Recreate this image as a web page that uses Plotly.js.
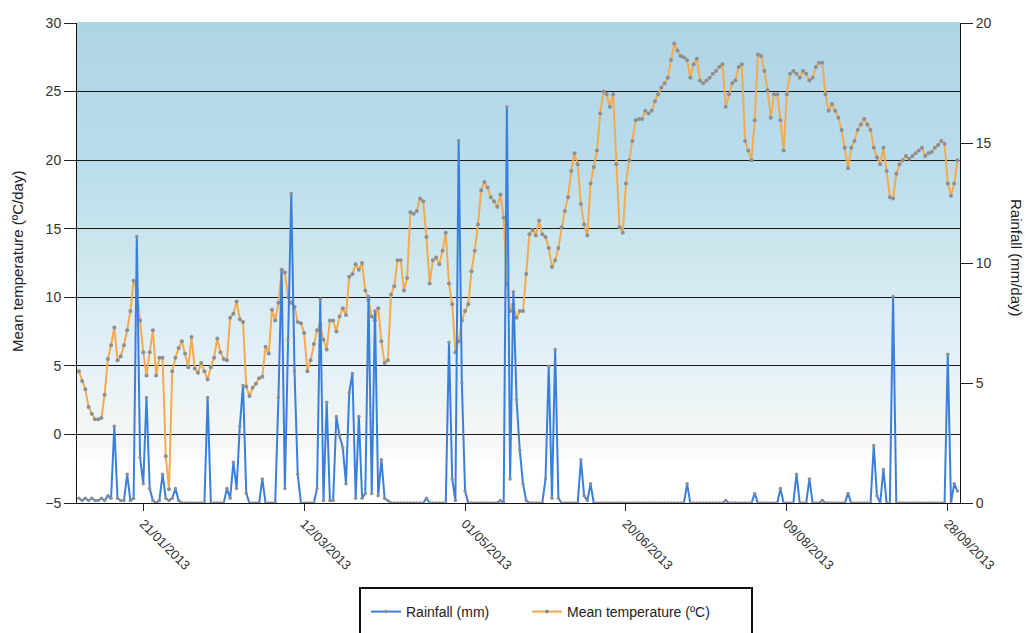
<!DOCTYPE html>
<html>
<head>
<meta charset="utf-8">
<script src="https://cdn.plot.ly/plotly-3.0.1.min.js"></script>
<style>
html,body{margin:0;padding:0;background:#fff;}
#chart{width:1029px;height:633px;}
</style>
</head>
<body>
<div id="chart"></div>
<script>
// ---- data ----
const startDate = '2013-01-01';
const rainfall = [
  0.2,0.1,0.2,0.1,0.2,0.1,0.1,0.2,0.1,0.3,
  0.2,3.2,0.2,0.1,0.1,1.2,0.1,0.2,11.1,1.9,
  0.8,4.4,0.6,0.1,0,0.1,1.2,0.2,0.1,0.2,
  0.6,0.1,0,0,0,0,0,0,0,0,
  4.4,0,0,0,0,0,0.6,0.2,1.7,0.6,
  3.2,4.9,0.4,0,0,0,0,1.0,0,0,
  0,0,4.4,9.7,0.6,6.8,12.9,5.5,1.2,0,
  0,0,0,0,0.6,8.5,0.1,4.2,0.1,0.1,
  3.6,2.8,2.3,0.8,4.6,5.4,0.2,3.6,0.2,0.4,
  8.6,0.4,8.0,0.3,1.8,0.2,0.1,0,0,0,
  0,0,0,0,0,0,0,0,0.2,0,
  0,0,0,0,0,6.7,1.0,0.1,15.1,5.0,
  0.5,0,0,0,0,0,0,0,0,0,
  0,0.1,0,16.5,1.0,8.8,4.3,2.2,0.8,0.1,
  0,0,0,0,0,1.0,5.7,0.2,6.4,0.2,
  0,0,0,0,0,0,1.8,0.3,0.1,0.8,
  0,0,0,0,0,0,0,0,0,0,
  0,0,0,0,0,0,0,0,0,0,
  0,0,0,0,0,0,0,0,0,0.8,
  0,0,0,0,0,0,0,0,0,0,
  0,0.1,0,0,0,0,0,0,0,0,
  0.4,0,0,0,0,0,0,0,0.6,0,
  0,0,0,1.2,0,0,0,1.0,0,0,
  0,0.1,0,0,0,0,0,0,0,0.4,
  0,0,0,0,0,0,0,2.4,0.3,0,
  1.4,0,0,8.6,0,0,0,0,0,0,
  0,0,0,0,0,0,0,0,0,0,
  6.2,0,0.8,0.5
];
const meanTemperature = [
  4.6,3.9,3.3,2.0,1.5,1.1,1.1,1.2,2.9,5.5,
  6.5,7.8,5.4,5.7,6.5,7.6,9.0,11.2,10.6,8.3,
  6.0,4.3,6.0,7.6,4.3,5.6,5.6,-1.6,-4.0,4.6,
  5.6,6.3,6.8,5.9,4.9,7.1,4.8,4.5,5.2,4.6,
  4.0,4.9,5.6,7.0,6.0,5.5,5.4,8.5,8.8,9.7,
  8.4,8.2,3.5,2.8,3.4,3.7,4.1,4.2,6.4,5.9,
  9.1,8.3,9.6,12.0,11.8,10.0,9.6,9.3,8.2,8.1,
  7.4,4.6,5.4,6.6,7.6,8.0,6.9,6.2,8.3,8.3,
  7.5,8.6,9.2,8.7,11.5,11.7,12.4,12.0,12.5,10.5,
  9.8,8.6,8.3,9.2,6.8,5.2,5.4,10.2,10.8,12.7,
  12.7,10.5,11.4,16.2,16.1,16.3,17.2,17.0,14.4,11.0,
  12.7,12.9,12.4,13.4,14.7,11.0,9.5,6.0,6.8,8.3,
  9.0,9.5,11.9,13.4,15.3,17.8,18.4,18.0,17.3,17.0,
  16.6,17.5,15.8,11.0,9.0,9.5,8.5,9.0,9.0,11.7,
  14.6,14.9,14.5,15.6,14.6,14.4,13.6,12.2,12.7,13.6,
  15.1,16.3,17.3,19.2,20.5,19.7,16.8,15.3,14.5,18.3,
  19.5,20.7,23.4,25.0,24.8,23.9,24.8,19.7,15.1,14.7,
  18.3,20.0,21.4,22.9,23.0,23.0,23.6,23.4,23.6,24.3,
  24.8,25.3,25.6,26.0,27.3,28.5,28.0,27.6,27.5,27.3,
  26.0,27.0,27.4,25.8,25.6,25.8,26.0,26.3,26.5,26.8,
  27.0,23.9,24.8,25.6,25.8,26.8,27.0,21.4,20.7,20.0,
  22.9,27.7,27.6,26.5,25.1,23.1,24.8,24.8,22.9,20.7,
  24.8,26.3,26.5,26.3,26.0,26.5,26.3,25.8,26.0,26.8,
  27.1,27.1,24.8,23.6,24.1,23.6,23.1,22.2,20.9,19.4,
  20.9,21.4,22.2,22.6,23.0,22.6,22.2,20.9,20.2,19.7,
  20.9,19.2,17.3,17.2,19.0,19.7,20.0,20.3,20.1,20.3,
  20.5,20.7,20.9,20.3,20.5,20.6,20.9,21.1,21.4,21.2,
  18.3,17.4,18.3,20.0
];
const xTickVals = ['2013-01-21','2013-03-12','2013-05-01','2013-06-20','2013-08-09','2013-09-28'];
const xTickText = ['21/01/2013','12/03/2013','01/05/2013','20/06/2013','09/08/2013','28/09/2013'];
const seriesNames = ['Rainfall (mm)', 'Mean temperature (ºC)'];
const leftTitle = 'Mean temperature (ºC/day)';
const rightTitle = 'Rainfall (mm/day)';

// ---- dates ----
function dayString(offset) {
  const d = new Date(startDate + 'T00:00:00Z');
  d.setUTCDate(d.getUTCDate() + offset);
  return d.toISOString().slice(0, 10);
}
const datesT = meanTemperature.map((_, i) => dayString(i));
const datesR = rainfall.map((_, i) => dayString(i));

// ---- background gradient (top -> bottom) ----
const gradStops = [
  [0.00, [170, 214, 226]],
  [0.04, [176, 213, 231]],
  [0.30, [186, 221, 236]],
  [0.45, [202, 229, 237]],
  [0.60, [218, 236, 243]],
  [0.72, [230, 241, 248]],
  [0.82, [240, 245, 245]],
  [0.88, [246, 247, 247]],
  [0.92, [255, 255, 255]],
  [1.00, [255, 255, 255]]
];
function gradColor(t) {
  for (let i = 0; i < gradStops.length - 1; i++) {
    const a = gradStops[i], b = gradStops[i + 1];
    if (t >= a[0] && t <= b[0]) {
      const f = (t - a[0]) / (b[0] - a[0] || 1);
      const c = a[1].map((v, k) => Math.round(v + (b[1][k] - v) * f));
      return 'rgb(' + c.join(',') + ')';
    }
  }
  return 'rgb(255,255,255)';
}
const shapes = [];
const bands = 80;
for (let i = 0; i < bands; i++) {
  const t0 = i / bands, t1 = (i + 1) / bands;
  shapes.push({
    type: 'rect', xref: 'paper', yref: 'paper', layer: 'below',
    x0: 0, x1: 1, y0: 1 - t1, y1: 1 - t0 + 0.002,
    fillcolor: gradColor((t0 + t1) / 2), line: {width: 0}
  });
}
// legend frame
shapes.push({
  type: 'rect', xref: 'paper', yref: 'paper', layer: 'above',
  x0: (360 - 77) / 883, x1: (752 - 77) / 883,
  y0: -0.29, y1: (503 - 588) / 480,
  fillcolor: 'rgba(0,0,0,0)', line: {color: '#111', width: 2}
});

const font = 'Liberation Sans, Arial, sans-serif';
const markerGrey = '#8c9095';

const traces = [
  {
    x: datesT, y: meanTemperature, name: seriesNames[1],
    type: 'scatter', mode: 'lines+markers', yaxis: 'y',
    line: {color: '#f5aa4d', width: 2},
    marker: {color: markerGrey, size: 4},
    legend: 'legend2'
  },
  {
    x: datesR, y: rainfall, name: seriesNames[0],
    type: 'scatter', mode: 'lines+markers', yaxis: 'y2',
    line: {color: '#3b7fdd', width: 2},
    marker: {color: markerGrey, size: 3.5},
    legend: 'legend'
  }
];

const legendBase = {
  orientation: 'h', xref: 'container', yref: 'container',
  xanchor: 'left', y: 1 - 612 / 633, yanchor: 'middle',
  bgcolor: 'rgba(0,0,0,0)', borderwidth: 0,
  font: {family: font, size: 14, color: '#222'}
};

const layout = {
  width: 1029, height: 633,
  margin: {l: 77, r: 69, t: 23, b: 130, pad: 0, autoexpand: false},
  paper_bgcolor: '#ffffff',
  plot_bgcolor: 'rgba(0,0,0,0)',
  font: {family: font, size: 12, color: '#333'},
  showlegend: true,
  legend: Object.assign({}, legendBase, {x: 366 / 1029}),
  legend2: Object.assign({}, legendBase, {x: 527 / 1029}),
  xaxis: {
    type: 'date', automargin: false,
    range: ['2012-12-31 09:50', '2013-10-01 19:10'],
    tickmode: 'array', tickvals: xTickVals, ticktext: xTickText,
    tickangle: 45, tickfont: {size: 13, color: '#333'},
    ticks: 'outside', ticklen: 7, tickcolor: '#222', tickwidth: 1,
    showgrid: false, zeroline: false,
    showline: true, linecolor: '#111', linewidth: 1, mirror: false
  },
  yaxis: {
    range: [-5, 30], dtick: 5, tick0: -5, automargin: false,
    ticks: 'outside', ticklen: 12, tickcolor: '#222',
    tickfont: {size: 14, color: '#333'},
    showgrid: true, gridcolor: '#1a1a1a', gridwidth: 1,
    zeroline: false, showline: true, linecolor: '#111', linewidth: 1
  },
  yaxis2: {
    range: [0, 20], dtick: 5, overlaying: 'y', side: 'right', automargin: false,
    ticks: 'outside', ticklen: 12, tickcolor: '#222',
    tickfont: {size: 14, color: '#333'},
    showgrid: false, zeroline: false,
    showline: true, linecolor: '#111', linewidth: 1
  },
  shapes: shapes,
  annotations: [
    {
      text: leftTitle, xref: 'paper', yref: 'paper',
      x: (17 - 77) / 883, y: (503 - 262) / 480,
      xanchor: 'center', yanchor: 'middle', textangle: -90,
      showarrow: false, font: {family: font, size: 15, color: '#222'}
    },
    {
      text: rightTitle, xref: 'paper', yref: 'paper',
      x: (1017 - 77) / 883, y: (503 - 258) / 480,
      xanchor: 'center', yanchor: 'middle', textangle: 90,
      showarrow: false, font: {family: font, size: 15, color: '#222'}
    }
  ]
};

Plotly.newPlot('chart', traces, layout, {displayModeBar: false, staticPlot: true});
</script>
</body>
</html>
